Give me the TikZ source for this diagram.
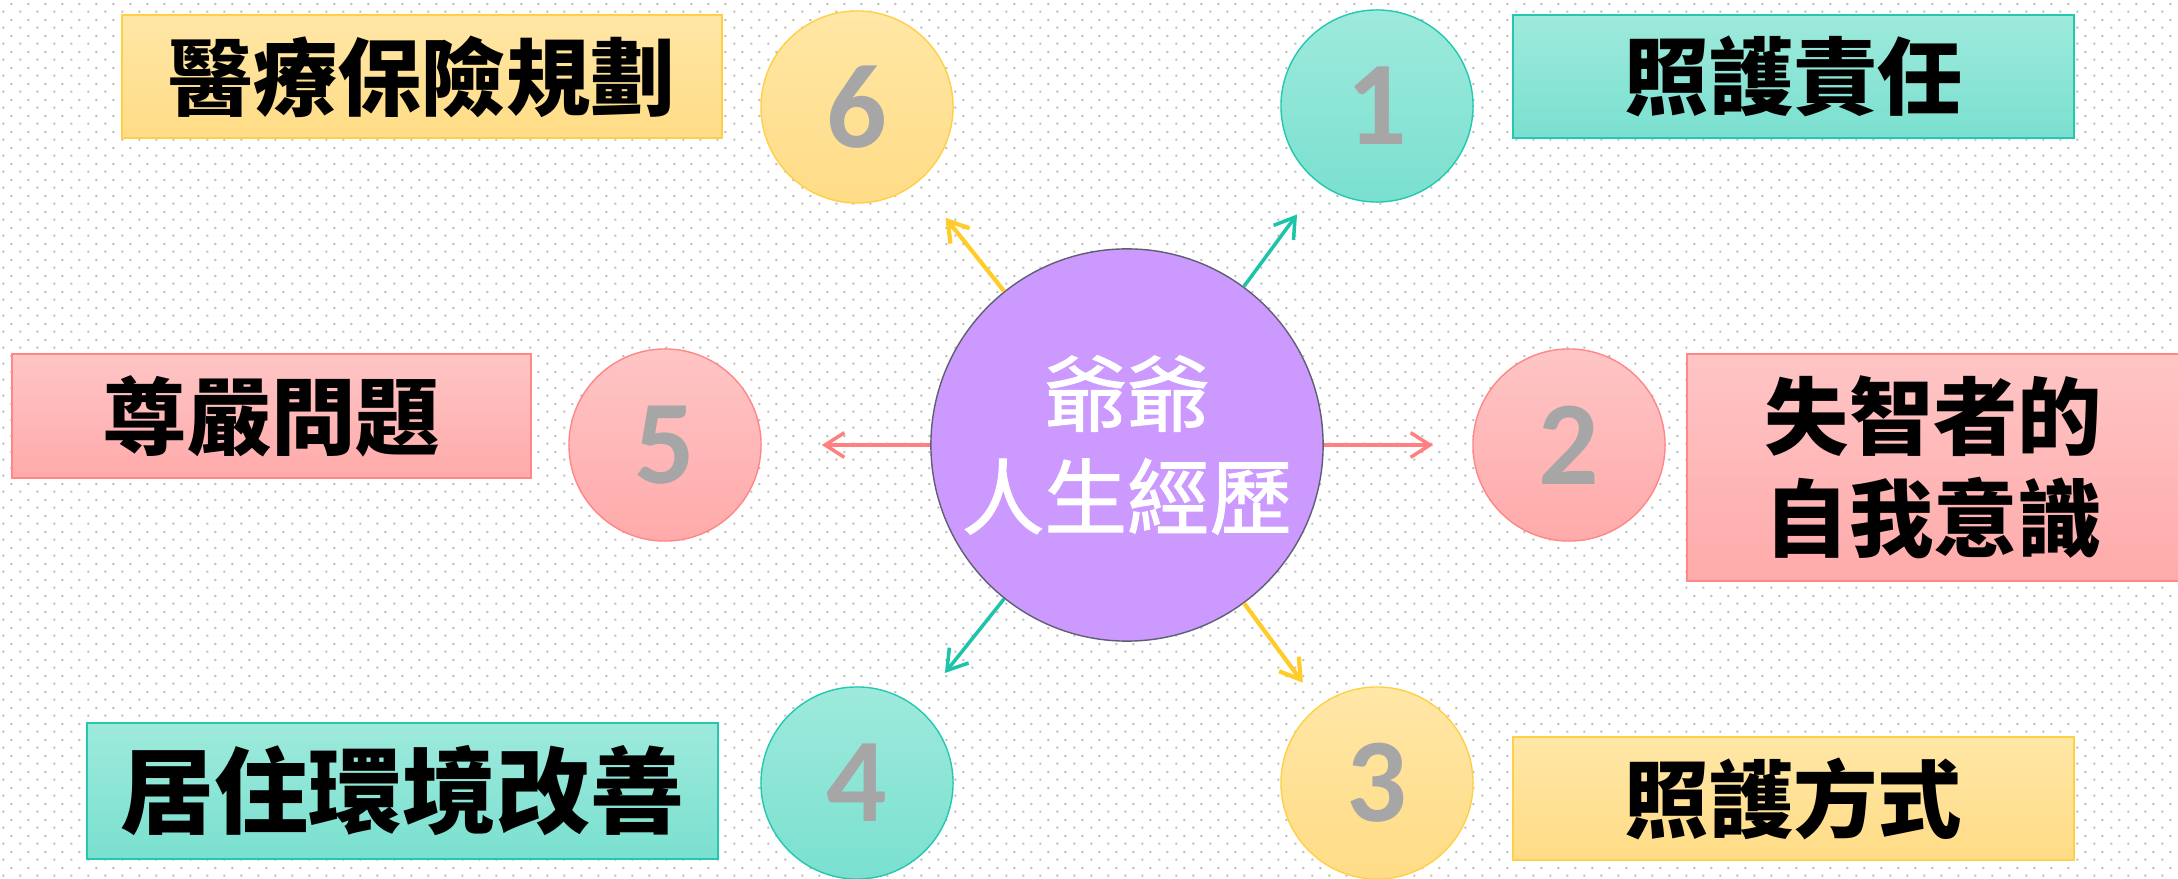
\documentclass[tikz,border=0pt]{standalone}
\usepackage{fontspec}
\newfontfamily\cjk{Noto Sans CJK TC}
\newfontfamily\cjkmid[FakeBold=1.3]{Noto Sans CJK TC}
\newfontfamily\digits{Carlito}
\usetikzlibrary{arrows.meta,patterns}

\definecolor{dotgray}{RGB}{188,188,188}
\definecolor{hubfill}{RGB}{204,153,255}
\definecolor{hubline}{RGB}{95,95,115}
\definecolor{numgray}{RGB}{166,166,166}
\definecolor{tealtop}{RGB}{158,234,220}
\definecolor{tealbot}{RGB}{122,224,207}
\definecolor{tealline}{RGB}{36,200,176}
\definecolor{pinktop}{RGB}{255,197,197}
\definecolor{pinkbot}{RGB}{255,170,170}
\definecolor{pinkline}{RGB}{255,135,135}
\definecolor{yellowtop}{RGB}{255,231,166}
\definecolor{yellowbot}{RGB}{255,220,134}
\definecolor{yellowline}{RGB}{255,208,70}
\definecolor{arrowteal}{RGB}{30,196,170}
\definecolor{arrowpink}{RGB}{255,128,128}
\definecolor{arrowyellow}{RGB}{255,204,41}

\pgfdeclarepatternformonly{staggerdots}{\pgfqpoint{0pt}{0pt}}{\pgfqpoint{4.8369pt}{4.5524pt}}{\pgfqpoint{4.8369pt}{4.5524pt}}{%
  \pgfpathrectangle{\pgfqpoint{1pt}{1pt}}{\pgfqpoint{0.6pt}{0.6pt}}%
  \pgfpathrectangle{\pgfqpoint{3.4185pt}{3.2762pt}}{\pgfqpoint{0.6pt}{0.6pt}}%
  \pgfusepath{fill}}

\begin{document}
\begin{tikzpicture}[x=0.01cm, y=-0.01cm,
    hub/.style={circle, draw=hubline, line width=0.4pt, fill=hubfill, minimum size=3.92cm, inner sep=0pt,
        text=white, align=center, font=\cjkmid\fontsize{23.5pt}{29.3pt}\selectfont},
    ring/.style={circle, minimum size=1.92cm, inner sep=0pt, line width=0.4pt, text=numgray,
        font=\digits\bfseries\fontsize{34pt}{34pt}\selectfont},
    tag/.style={rectangle, line width=0.6pt, inner sep=0pt, align=center,
        font=\cjk\bfseries\fontsize{24pt}{29pt}\selectfont},
    tealish/.style={draw=tealline, top color=tealtop, bottom color=tealbot},
    pinkish/.style={draw=pinkline, top color=pinktop, bottom color=pinkbot},
    yellowish/.style={draw=yellowline, top color=yellowtop, bottom color=yellowbot},
    link/.style={-{Straight Barb[length=5.5pt,width=7pt]}, line width=1pt}]
    % background
    \useasboundingbox (0,0) rectangle (2178,879);
    \fill[white] (0,0) rectangle (2178,879);
    \fill[pattern=staggerdots, pattern color=dotgray] (0,0) rectangle (2178,879);
    % hub
    \node[hub] (hub) at (1127,445) {爺爺\\人生經歷};
    % rings
    \node[ring, tealish] (n1) at (1377,106) {1};
    \node[ring, pinkish] (n2) at (1569,445) {2};
    \node[ring, yellowish] (n3) at (1377,783) {3};
    \node[ring, tealish] (n4) at (857,783) {4};
    \node[ring, pinkish] (n5) at (665,445) {5};
    \node[ring, yellowish] (n6) at (857,107) {6};
    % tags
    \node[tag, tealish, minimum width=5.61cm, minimum height=1.23cm] (t1) at (1793.5,76.5) {照護責任};
    \node[tag, pinkish, minimum width=4.93cm, minimum height=2.27cm] (t2) at (1933.5,467.5) {失智者的\\自我意識};
    \node[tag, yellowish, minimum width=5.61cm, minimum height=1.23cm] (t3) at (1793.5,798.5) {照護方式};
    \node[tag, tealish, minimum width=6.31cm, minimum height=1.36cm,
        font=\cjk\bfseries\fontsize{26.7pt}{32pt}\selectfont] (t4) at (402.5,791) {居住環境改善};
    \node[tag, pinkish, minimum width=5.19cm, minimum height=1.24cm] (t5) at (271.5,416) {尊嚴問題};
    \node[tag, yellowish, minimum width=6.00cm, minimum height=1.23cm] (t6) at (422,76.5) {醫療保險規劃};
    % links
    \draw[link, arrowteal, shorten >=0.38cm] (hub) -- (n1);
    \draw[link, arrowpink, shorten >=0.39cm] (hub) -- (n2);
    \draw[link, arrowyellow, line width=1.2pt, shorten >=0.28cm] (hub) -- (n3);
    \draw[link, arrowteal, shorten >=0.44cm] (hub) -- (n4);
    \draw[link, arrowpink, shorten >=0.60cm] (hub) -- (n5);
    \draw[link, arrowyellow, line width=1.2pt, shorten >=0.45cm] (hub) -- (n6);
\end{tikzpicture}
\end{document}
